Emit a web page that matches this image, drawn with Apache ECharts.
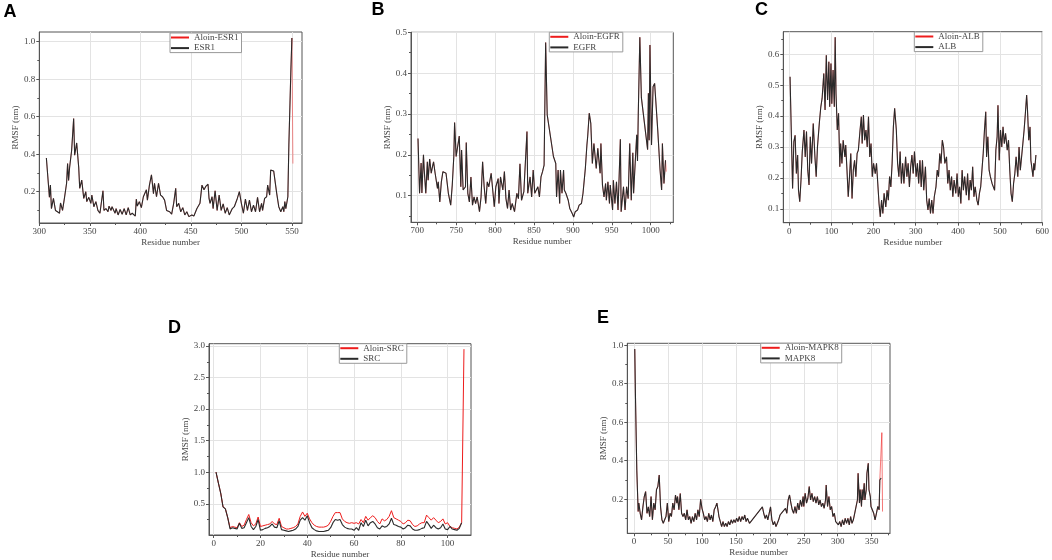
<!DOCTYPE html>
<html>
<head>
<meta charset="utf-8">
<title>RMSF</title>
<script src="https://cdn.jsdelivr.net/npm/echarts@6.0.0/dist/echarts.min.js"></script>
<style>
html, body { margin: 0; padding: 0; background: #fff; }
#chart { width: 1052px; height: 560px; }
</style>
</head>
<body>
<div id="chart"></div>
<script>
// RMSF (nm) per residue: [residue, rmsf]

// A - ESR1
var esr1 = [[307,0.38],[310,0.17],[311,0.235],[312,0.11],[314,0.164],[316,0.10],[318,0.093],[320,0.085],[321,0.14],[323,0.10],
  [325,0.17],[327,0.245],[328,0.35],[329,0.26],[330,0.33],[332,0.42],[334,0.59],[335,0.395],[337,0.46],[339,0.33],
  [340,0.218],[342,0.262],[344,0.164],[346,0.20],[347,0.147],[349,0.17],[351,0.138],[352,0.182],[354,0.12],[356,0.147],
  [358,0.10],[360,0.085],[363,0.205],[364,0.10],[366,0.11],[368,0.093],[369,0.123],[371,0.10],[372,0.12],[375,0.085],
  [376,0.11],[378,0.076],[380,0.105],[382,0.08],[384,0.11],[386,0.076],[388,0.115],[390,0.076],[392,0.085],[395,0.07],
  [396,0.16],[397,0.123],[399,0.147],[401,0.115],[403,0.173],[406,0.21],[407,0.155],[409,0.235],[411,0.29],[413,0.19],
  [414,0.245],[416,0.173],[418,0.245],[420,0.182],[422,0.173],[424,0.155],[426,0.10],[429,0.093],[431,0.08],[433,0.138],
  [435,0.218],[436,0.12],[438,0.138],[440,0.093],[442,0.115],[444,0.076],[446,0.093],[448,0.067],[451,0.076],[453,0.07],
  [456,0.11],[459,0.138],[461,0.235],[463,0.21],[465,0.23],[467,0.24],[468,0.164],[469,0.138],[471,0.173],[472,0.11],
  [474,0.205],[476,0.10],[478,0.182],[480,0.10],[482,0.135],[484,0.085],[486,0.115],[488,0.076],[491,0.11],[493,0.12],
  [496,0.164],[498,0.20],[500,0.138],[502,0.085],[504,0.16],[506,0.10],[508,0.155],[510,0.093],[512,0.128],[514,0.093],
  [516,0.17],[518,0.093],[520,0.138],[521,0.10],[523,0.164],[525,0.173],[526,0.235],[528,0.182],[529,0.315],[532,0.31],
  [533,0.307],[535,0.19],[537,0.12],[539,0.093],[541,0.12],[542,0.093],[543,0.147],[544,0.11],[546,0.173],[547,0.45],
  [548,0.65],[549,0.85],[550,1.02]];
var aloinEsr1Tail = [[551,0.35]];

// B - EGFR
var egfr = [[701,0.24],[703,0.106],[705,0.18],[706,0.107],[708,0.20],[709,0.163],[711,0.106],[713,0.183],[714,0.138],[716,0.19],
  [718,0.155],[720,0.175],[721,0.183],[723,0.155],[726,0.118],[727,0.134],[729,0.085],[731,0.134],[733,0.159],[737,0.155],
  [740,0.106],[743,0.077],[745,0.126],[747,0.196],[748,0.279],[750,0.196],[754,0.246],[756,0.122],[757,0.212],[759,0.114],
  [762,0.122],[763,0.23],[765,0.106],[767,0.085],[769,0.146],[771,0.077],[773,0.097],[775,0.081],[777,0.097],[780,0.061],
  [782,0.097],[784,0.183],[786,0.122],[788,0.081],[790,0.134],[792,0.122],[795,0.155],[797,0.114],[799,0.073],[801,0.122],
  [804,0.142],[805,0.081],[807,0.146],[810,0.114],[812,0.159],[814,0.093],[816,0.069],[818,0.114],[820,0.065],[822,0.081],
  [825,0.061],[828,0.106],[830,0.093],[832,0.178],[834,0.089],[837,0.11],[841,0.257],[842,0.106],[845,0.146],[847,0.097],
  [849,0.163],[851,0.106],[855,0.122],[857,0.097],[859,0.146],[861,0.159],[863,0.175],[865,0.475],[867,0.298],[875,0.196],
  [878,0.179],[879,0.097],[881,0.163],[883,0.081],[884,0.163],[886,0.106],[888,0.163],[889,0.114],[891,0.106],[894,0.089],
  [896,0.069],[899,0.057],[901,0.048],[903,0.061],[906,0.065],[908,0.077],[911,0.081],[913,0.106],[916,0.167],[918,0.224],
  [919,0.245],[921,0.302],[923,0.277],[925,0.179],[927,0.228],[930,0.167],[932,0.216],[935,0.155],[936,0.228],[938,0.126],
  [940,0.097],[942,0.13],[943,0.089],[945,0.134],[947,0.081],[948,0.126],[951,0.065],[952,0.138],[954,0.081],[956,0.134],
  [958,0.065],[961,0.238],[962,0.061],[965,0.122],[967,0.065],[969,0.122],[971,0.093],[973,0.228],[975,0.089],[977,0.205],
  [978,0.106],[980,0.179],[982,0.249],[983,0.185],[984,0.30],[986,0.488],[988,0.34],[996,0.213],[997,0.351],[998,0.236],
  [999,0.469],[1001,0.224],[1003,0.367],[1005,0.375],[1009,0.261],[1012,0.163],[1014,0.114],[1015,0.228],[1017,0.13],[1019,0.187]];
var aloinEgfrTail = [[1020,0.159]];

// C - ALB
var alb = [[2,0.527],[8,0.166],[11,0.317],[14,0.338],[17,0.214],[20,0.274],[22,0.16],[25,0.123],[28,0.193],[31,0.285],
  [35,0.355],[38,0.268],[41,0.35],[44,0.225],[47,0.177],[50,0.333],[53,0.247],[57,0.376],[61,0.268],[64,0.204],
  [67,0.30],[72,0.387],[75,0.43],[78,0.457],[82,0.538],[85,0.42],[88,0.597],[91,0.452],[94,0.576],[96,0.43],
  [99,0.57],[101,0.44],[104,0.549],[107,0.43],[109,0.655],[111,0.473],[114,0.355],[117,0.409],[120,0.236],[122,0.311],
  [125,0.247],[128,0.322],[132,0.268],[134,0.306],[137,0.225],[140,0.139],[143,0.204],[146,0.279],[149,0.133],[152,0.225],
  [155,0.257],[158,0.204],[161,0.279],[164,0.29],[168,0.355],[171,0.398],[173,0.311],[176,0.403],[179,0.322],[182,0.355],
  [185,0.30],[188,0.398],[191,0.268],[194,0.311],[197,0.204],[200,0.247],[204,0.214],[207,0.247],[210,0.182],[213,0.117],
  [216,0.074],[219,0.128],[222,0.085],[225,0.15],[229,0.106],[232,0.16],[235,0.128],[238,0.204],[241,0.171],[244,0.247],
  [247,0.365],[250,0.425],[254,0.355],[257,0.247],[260,0.204],[263,0.285],[266,0.182],[269,0.247],[272,0.182],[276,0.268],
  [279,0.204],[282,0.247],[285,0.171],[288,0.236],[291,0.274],[294,0.214],[297,0.285],[301,0.204],[304,0.247],[307,0.182],
  [310,0.257],[313,0.171],[316,0.257],[319,0.16],[323,0.236],[326,0.128],[329,0.096],[332,0.133],[335,0.085],[338,0.128],
  [341,0.085],[344,0.139],[348,0.171],[351,0.225],[354,0.204],[357,0.279],[360,0.247],[363,0.322],[366,0.30],[369,0.247],
  [373,0.268],[376,0.182],[379,0.225],[382,0.16],[385,0.204],[388,0.139],[391,0.193],[395,0.15],[398,0.214],[401,0.139],
  [404,0.171],[407,0.117],[410,0.225],[413,0.16],[416,0.204],[420,0.144],[423,0.214],[426,0.128],[429,0.193],[432,0.16],
  [435,0.236],[438,0.139],[441,0.171],[445,0.128],[448,0.112],[451,0.15],[454,0.171],[457,0.225],[460,0.279],[463,0.355],
  [466,0.414],[468,0.268],[471,0.333],[474,0.225],[477,0.204],[481,0.182],[484,0.171],[487,0.16],[490,0.29],[493,0.333],
  [495,0.435],[498,0.257],[501,0.355],[504,0.30],[507,0.365],[510,0.311],[513,0.344],[517,0.29],[520,0.322],[523,0.225],
  [526,0.15],[529,0.123],[532,0.182],[535,0.214],[538,0.268],[542,0.204],[545,0.30],[548,0.225],[551,0.268],[554,0.311],
  [557,0.355],[560,0.409],[563,0.468],[565,0.42],[568,0.322],[571,0.365],[573,0.257],[575,0.236],[578,0.204],[580,0.247],
  [582,0.225],[585,0.274]];
var aloinAlbTail = [];

// D - SRC, one value per residue starting at residue 1
var srcApo = [1.00,0.83,0.67,0.45,0.42,0.28,0.10,0.12,0.11,0.10,
  0.19,0.11,0.12,0.20,0.28,0.14,0.09,0.14,0.25,0.08,
  0.09,0.11,0.12,0.14,0.18,0.13,0.12,0.23,0.09,0.08,
  0.07,0.06,0.07,0.08,0.10,0.14,0.24,0.28,0.24,0.31,
  0.20,0.12,0.09,0.07,0.06,0.06,0.06,0.07,0.08,0.12,
  0.20,0.25,0.24,0.25,0.17,0.13,0.11,0.10,0.10,0.08,
  0.12,0.08,0.20,0.14,0.24,0.15,0.20,0.22,0.18,0.12,
  0.10,0.15,0.13,0.14,0.18,0.27,0.17,0.16,0.14,0.13,
  0.10,0.12,0.16,0.15,0.10,0.08,0.08,0.09,0.11,0.12,
  0.22,0.17,0.11,0.16,0.12,0.10,0.12,0.18,0.10,0.09,
  0.14,0.10,0.09,0.08,0.11,0.20];
var srcAloin = [1.00,0.83,0.67,0.45,0.42,0.28,0.12,0.14,0.13,0.12,
  0.20,0.14,0.16,0.25,0.33,0.20,0.15,0.18,0.29,0.14,
  0.15,0.16,0.17,0.18,0.22,0.18,0.17,0.27,0.14,0.12,
  0.10,0.10,0.11,0.12,0.14,0.18,0.30,0.37,0.30,0.35,
  0.26,0.20,0.16,0.14,0.13,0.13,0.13,0.14,0.16,0.22,
  0.30,0.36,0.36,0.36,0.26,0.22,0.20,0.19,0.20,0.19,
  0.20,0.18,0.25,0.20,0.30,0.24,0.28,0.31,0.28,0.22,
  0.18,0.26,0.23,0.25,0.30,0.39,0.28,0.26,0.24,0.22,
  0.18,0.20,0.24,0.23,0.17,0.14,0.15,0.18,0.20,0.20,
  0.32,0.28,0.24,0.28,0.24,0.20,0.22,0.26,0.18,0.20,
  0.14,0.12,0.11,0.10,0.13,0.20,2.95];

// E - MAPK8
var mapk8 = [[1,0.98],[2,0.74],[4,0.35],[6,0.136],[7,0.18],[9,0.127],[11,0.093],[13,0.16],[15,0.214],[17,0.24],
  [19,0.127],[21,0.16],[23,0.11],[25,0.214],[27,0.093],[29,0.18],[31,0.145],[33,0.25],[35,0.266],[37,0.326],
  [39,0.16],[41,0.093],[43,0.075],[45,0.093],[47,0.11],[49,0.18],[51,0.084],[53,0.127],[55,0.11],[57,0.18],
  [59,0.145],[61,0.222],[63,0.18],[64,0.214],[66,0.145],[68,0.23],[70,0.127],[72,0.11],[74,0.127],[76,0.093],
  [78,0.145],[80,0.093],[82,0.11],[84,0.075],[86,0.11],[88,0.084],[90,0.127],[92,0.093],[94,0.145],[96,0.11],
  [98,0.20],[100,0.153],[102,0.127],[104,0.093],[106,0.11],[108,0.084],[110,0.127],[112,0.093],[114,0.118],[116,0.084],
  [118,0.145],[120,0.16],[122,0.18],[124,0.136],[125,0.11],[127,0.084],[129,0.058],[131,0.084],[133,0.058],[135,0.075],
  [137,0.058],[139,0.084],[141,0.067],[143,0.093],[145,0.075],[147,0.093],[149,0.079],[151,0.101],[153,0.084],[155,0.11],
  [157,0.084],[159,0.11],[161,0.093],[163,0.118],[165,0.084],[167,0.101],[170,0.075],[189,0.16],[191,0.127],[193,0.10],
  [195,0.118],[197,0.093],[199,0.127],[201,0.16],[203,0.093],[205,0.067],[207,0.084],[209,0.058],[211,0.075],[213,0.093],
  [215,0.118],[217,0.11],[219,0.136],[221,0.127],[223,0.153],[225,0.127],[227,0.196],[229,0.222],[231,0.18],[233,0.145],
  [235,0.127],[237,0.162],[239,0.127],[241,0.18],[243,0.145],[245,0.196],[247,0.162],[249,0.214],[250,0.162],[252,0.231],
  [254,0.18],[256,0.205],[258,0.266],[260,0.196],[262,0.231],[264,0.188],[266,0.214],[268,0.18],[270,0.214],[272,0.171],
  [274,0.196],[276,0.162],[278,0.18],[280,0.153],[282,0.196],[283,0.274],[285,0.162],[287,0.214],[289,0.145],[291,0.162],
  [293,0.11],[295,0.127],[297,0.084],[299,0.093],[301,0.067],[303,0.084],[305,0.058],[307,0.093],[309,0.067],[311,0.101],
  [313,0.075],[315,0.101],[317,0.067],[319,0.11],[321,0.075],[323,0.093],[325,0.127],[327,0.162],[329,0.196],[330,0.335],
  [332,0.18],[333,0.25],[335,0.162],[336,0.25],[337,0.196],[339,0.283],[340,0.196],[342,0.25],[343,0.335],[345,0.387],
  [346,0.25],[348,0.214],[349,0.162],[351,0.171],[353,0.127],[355,0.093],[357,0.127],[359,0.162],[361,0.145],[362,0.30],
  [364,0.31]];
var aloinMapk8Tail = [[365,0.546],[366,0.136]];

// tick values
var ticksAx = [300, 350, 400, 450, 500, 550], minorAx = [325, 375, 425, 475, 525];
var ticksAy = [0.2, 0.4, 0.6, 0.8, 1.0], minorAy = [0.1, 0.3, 0.5, 0.7, 0.9];
var ticksBx = [700, 750, 800, 850, 900, 950, 1000], minorBx = [725, 775, 825, 875, 925, 975, 1025];
var ticksBy = [0.1, 0.2, 0.3, 0.4, 0.5], minorBy = [0.05, 0.15, 0.25, 0.35, 0.45];
var ticksCx = [0, 100, 200, 300, 400, 500, 600], minorCx = [50, 150, 250, 350, 450, 550];
var ticksCy = [0.1, 0.2, 0.3, 0.4, 0.5, 0.6], minorCy = [0.15, 0.25, 0.35, 0.45, 0.55, 0.65];
var ticksDx = [0, 20, 40, 60, 80, 100], minorDx = [10, 30, 50, 70, 90];
var ticksDy = [0.5, 1.0, 1.5, 2.0, 2.5, 3.0], minorDy = [0.25, 0.75, 1.25, 1.75, 2.25, 2.75];
var ticksEx = [0, 50, 100, 150, 200, 250, 300, 350], minorEx = [25, 75, 125, 175, 225, 275, 325, 375];
var ticksEy = [0.2, 0.4, 0.6, 0.8, 1.0], minorEy = [0.1, 0.3, 0.5, 0.7, 0.9];

function withRes(vals) {
  return vals.map(function (v, i) { return [i + 1, v]; });
}

// redW: the Aloin line sits under the apo line, keep it thin where they coincide
var panels = [
  { letter: 'A', lx: 3.5, ly: 3.5, grid: [39.3, 32, 262.7, 191], xr: [300, 560], yr: [0.033, 1.052],
    xt: ticksAx, xm: minorAx, yt: ticksAy, ym: minorAy, leg: [170, 33], redW: 0.5,
    aloin: 'Aloin-ESR1', apo: 'ESR1', aloinData: esr1.concat(aloinEsr1Tail), apoData: esr1 },
  { letter: 'B', lx: 371.5, ly: 1.5, grid: [411, 32.3, 262.3, 190], xr: [692, 1029], yr: [0.035, 0.5],
    xt: ticksBx, xm: minorBx, yt: ticksBy, ym: minorBy, leg: [549.3, 32.3], redW: 0.5,
    aloin: 'Aloin-EGFR', apo: 'EGFR', aloinData: egfr.concat(aloinEgfrTail), apoData: egfr },
  { letter: 'C', lx: 755, ly: 1.5, grid: [783.3, 31.7, 261.7, 191], xr: [-14, 600], yr: [0.055, 0.673],
    xt: ticksCx, xm: minorCx, yt: ticksCy, ym: minorCy, leg: [914.3, 32], redW: 0.5,
    aloin: 'Aloin-ALB', apo: 'ALB', aloinData: alb.concat(aloinAlbTail), apoData: alb },
  { letter: 'D', lx: 168, ly: 319.5, grid: [209, 343.7, 262, 191.6], xr: [-2, 110], yr: [0.005, 3.036],
    xt: ticksDx, xm: minorDx, yt: ticksDy, ym: minorDy, leg: [339.3, 343.7], redW: 1,
    aloin: 'Aloin-SRC', apo: 'SRC', aloinData: withRes(srcAloin), apoData: withRes(srcApo) },
  { letter: 'E', lx: 597, ly: 309.5, grid: [627.3, 343.3, 262.7, 190], xr: [-10, 377], yr: [0.023, 1.01],
    xt: ticksEx, xm: minorEx, yt: ticksEy, ym: minorEy, leg: [760.7, 343.3], redW: 0.6,
    aloin: 'Aloin-MAPK8', apo: 'MAPK8', aloinData: mapk8.concat(aloinMapk8Tail), apoData: mapk8 }
];

var font = 'Liberation Serif';
var textGrey = '#444';
var frameGrey = '#555';
var red = '#ee1c1c';
var black = '#2a2a2a';

var option = {
  animation: false,
  backgroundColor: '#fff',
  title: [], grid: [], xAxis: [], yAxis: [], legend: [], series: []
};

panels.forEach(function (p, i) {
  var main = 2 * i;

  option.title.push({
    text: p.letter, left: p.lx, top: p.ly, padding: 0,
    textStyle: { fontFamily: 'Liberation Sans', fontSize: 18, fontWeight: 'bold', color: '#000' }
  });

  option.grid.push({
    left: p.grid[0], top: p.grid[1], width: p.grid[2], height: p.grid[3],
    show: true, borderColor: frameGrey, borderWidth: 1
  });

  // main axes: frame, ticks, labels, grid lines
  option.xAxis.push({
    type: 'value', gridIndex: i, position: 'bottom', min: p.xr[0], max: p.xr[1],
    name: 'Residue number', nameLocation: 'middle', nameGap: 15,
    nameTextStyle: { fontFamily: font, fontSize: 9, color: textGrey },
    axisLine: { onZero: false, lineStyle: { color: frameGrey } },
    axisTick: { customValues: p.xt, length: 3, lineStyle: { color: frameGrey } },
    axisLabel: { customValues: p.xt, margin: 4, fontFamily: font, fontSize: 9, color: textGrey,
      formatter: function (v) { return String(v); } },
    splitLine: { show: true, lineStyle: { color: '#e3e3e3' } }
  });
  option.yAxis.push({
    type: 'value', gridIndex: i, position: 'left', min: p.yr[0], max: p.yr[1],
    name: 'RMSF (nm)', nameLocation: 'middle', nameGap: 18,
    nameTextStyle: { fontFamily: font, fontSize: 9, color: textGrey },
    axisLine: { show: true, onZero: false, lineStyle: { color: frameGrey } },
    axisTick: { show: true, customValues: p.yt, length: 3, lineStyle: { color: frameGrey } },
    axisLabel: { customValues: p.yt, margin: 4, fontFamily: font, fontSize: 9, color: textGrey,
      formatter: function (v) { return v.toFixed(1); } },
    splitLine: { show: true, lineStyle: { color: '#e3e3e3' } }
  });

  // minor tick axes
  option.xAxis.push({
    type: 'value', gridIndex: i, position: 'bottom', min: p.xr[0], max: p.xr[1],
    axisLine: { show: false, onZero: false },
    axisTick: { show: true, customValues: p.xm, length: 2, lineStyle: { color: frameGrey } },
    axisLabel: { show: false }, splitLine: { show: false }
  });
  option.yAxis.push({
    type: 'value', gridIndex: i, position: 'left', min: p.yr[0], max: p.yr[1],
    axisLine: { show: false, onZero: false },
    axisTick: { show: true, customValues: p.ym, length: 2, lineStyle: { color: frameGrey } },
    axisLabel: { show: false }, splitLine: { show: false }
  });

  option.legend.push({
    data: [p.aloin, p.apo], orient: 'vertical', left: p.leg[0], top: p.leg[1],
    padding: [0, 3, 0, 1], itemGap: 1.6, itemWidth: 18, itemHeight: 2, icon: 'rect',
    borderColor: '#999', borderWidth: 1, backgroundColor: '#fff', selectedMode: false,
    textStyle: { fontFamily: font, fontSize: 9, lineHeight: 9, color: textGrey }
  });

  option.series.push({
    name: p.aloin, type: 'line', xAxisIndex: main, yAxisIndex: main,
    data: p.aloinData, symbol: 'none', color: red,
    lineStyle: { width: p.redW, color: red }
  });
  option.series.push({
    name: p.apo, type: 'line', xAxisIndex: main, yAxisIndex: main,
    data: p.apoData, symbol: 'none', color: black,
    lineStyle: { width: 1.1, color: black }
  });
});

var myChart = echarts.init(document.getElementById('chart'), null, { renderer: 'canvas' });
myChart.setOption(option);
</script>
</body>
</html>
